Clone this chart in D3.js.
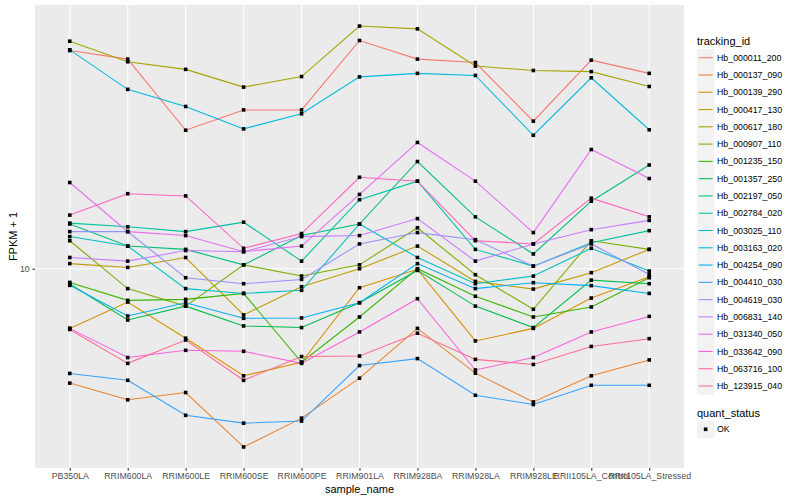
<!DOCTYPE html>
<html>
<head>
<meta charset="utf-8">
<script src="https://cdn.jsdelivr.net/npm/d3@7"></script>
<style>
  body { margin: 0; background: #fff; }
  text { font-family: "Liberation Sans", Arial, sans-serif; }
</style>
</head>
<body>
<svg width="800" height="500"></svg>
<script>
// samples on the x axis
const samples = ["PB350LA", "RRIM600LA", "RRIM600LE", "RRIM600SE", "RRIM600PE",
  "RRIM901LA", "RRIM928BA", "RRIM928LA", "RRIM928LE",
  "RRII105LA_Control", "RRII105LA_Stressed"];

const trackingIds = ["Hb_000011_200", "Hb_000137_090", "Hb_000139_290", "Hb_000417_130",
  "Hb_000617_180", "Hb_000907_110", "Hb_001235_150", "Hb_001357_250", "Hb_002197_050",
  "Hb_002784_020", "Hb_003025_110", "Hb_003163_020", "Hb_004254_090", "Hb_004410_030",
  "Hb_004619_030", "Hb_006831_140", "Hb_031340_050", "Hb_033642_090", "Hb_063716_100",
  "Hb_123915_040"];

// FPKM + 1, one row per tracking id, one value per sample
const fpkm = [
  [53.5, 50.1, 29.0, 33.9, 33.9, 57.8, 50.1, 48.8, 31.1, 49.7, 44.9],
  [4.15, 3.65, 3.86, 2.54, 3.17, 4.31, 6.32, 4.48, 3.59, 4.39, 4.96],
  [6.32, 7.74, 5.86, 4.39, 4.87, 8.64, 9.95, 5.74, 6.32, 7.98, 9.40],
  [10.4, 10.1, 10.9, 7.01, 8.71, 10.0, 11.9, 9.07, 8.55, 9.70, 11.6],
  [57.5, 49.1, 46.3, 40.4, 43.8, 64.6, 63.2, 47.5, 45.9, 45.5, 40.6],
  [12.4, 8.58, 7.50, 10.3, 9.45, 10.3, 13.7, 9.55, 7.32, 12.4, 11.6],
  [9.00, 7.84, 7.90, 8.27, 4.87, 6.90, 10.0, 8.09, 6.90, 7.45, 9.33],
  [8.89, 6.74, 7.50, 6.44, 6.36, 7.70, 9.87, 7.50, 6.36, 9.16, 8.91],
  [14.1, 11.9, 11.6, 10.3, 12.9, 14.1, 22.8, 14.9, 11.2, 16.8, 22.2],
  [14.2, 13.8, 13.3, 14.3, 10.6, 17.0, 19.6, 11.6, 10.2, 12.2, 13.4],
  [12.8, 11.9, 8.58, 8.27, 8.47, 14.1, 10.9, 8.91, 9.45, 11.7, 9.82],
  [53.8, 39.7, 34.8, 29.3, 32.9, 43.7, 44.9, 44.2, 27.9, 43.4, 29.1],
  [8.80, 6.95, 7.70, 6.83, 6.85, 7.70, 10.4, 8.58, 8.98, 8.78, 8.27],
  [4.47, 4.24, 3.24, 3.05, 3.10, 4.75, 5.01, 3.78, 3.52, 4.08, 4.08],
  [13.3, 13.3, 9.33, 8.91, 9.21, 12.1, 13.2, 12.5, 10.2, 12.1, 9.57],
  [10.9, 10.6, 11.5, 11.4, 12.8, 12.9, 14.7, 10.6, 12.1, 13.5, 14.5],
  [19.4, 13.3, 12.9, 11.4, 11.9, 17.7, 26.4, 19.6, 13.2, 25.0, 20.0],
  [6.32, 5.05, 5.34, 5.30, 4.83, 6.15, 7.94, 4.59, 5.05, 6.15, 6.93],
  [15.1, 17.8, 17.5, 11.7, 13.1, 20.2, 19.6, 12.4, 12.1, 17.2, 14.9],
  [6.27, 4.83, 5.78, 4.24, 5.09, 5.11, 6.09, 4.98, 4.79, 5.50, 5.84]
];

const yTicks = [10];

// ggplot hue palette, 20 levels
const palette = ["#F8766D", "#EA8331", "#D89000", "#C09B00", "#A3A500", "#7CAE00",
  "#39B600", "#00BB4E", "#00BF7D", "#00C1A3", "#00BFC4", "#00BAE0", "#00B0F6",
  "#35A2FF", "#9590FF", "#C77CFF", "#E76BF3", "#FA62DB", "#FF62BC", "#FF6C91"];

const panel = { left: 35, right: 684, top: 5, bottom: 468 };
const svg = d3.select("svg");

const series = trackingIds.map((id, i) => ({
  id,
  color: palette[i],
  values: samples.map((s, j) => ({ sample: s, v: fpkm[i][j] }))
}));

// log scale with 5% expansion like ggplot
const all = fpkm.flat();
const lo = Math.log10(d3.min(all)), hi = Math.log10(d3.max(all));
const pad = (hi - lo) * 0.05;
const y = d3.scaleLog()
  .domain([10 ** (lo - pad), 10 ** (hi + pad)])
  .range([panel.bottom, panel.top]);

const x = d3.scalePoint()
  .domain(samples)
  .range([panel.left, panel.right])
  .padding(0.6);

// panel background and grid
svg.append("rect")
  .attr("x", panel.left).attr("y", panel.top)
  .attr("width", panel.right - panel.left)
  .attr("height", panel.bottom - panel.top)
  .attr("fill", "#EBEBEB");

const grid = svg.append("g").attr("stroke", "#fff").attr("stroke-width", 1.07);
grid.selectAll(".gx").data(samples).join("line")
  .attr("x1", (d) => x(d)).attr("x2", (d) => x(d))
  .attr("y1", panel.top).attr("y2", panel.bottom);
grid.selectAll(".gy").data(yTicks).join("line")
  .attr("x1", panel.left).attr("x2", panel.right)
  .attr("y1", (d) => y(d)).attr("y2", (d) => y(d));

// lines
const line = d3.line().x((d) => x(d.sample)).y((d) => y(d.v));
svg.append("g").selectAll("path").data(series).join("path")
  .attr("fill", "none")
  .attr("stroke", (d) => d.color)
  .attr("stroke-width", 1.07)
  .attr("d", (d) => line(d.values));

// points
svg.append("g").selectAll("rect")
  .data(series.flatMap((d) => d.values))
  .join("rect")
  .attr("x", (d) => x(d.sample) - 1.8)
  .attr("y", (d) => y(d.v) - 1.8)
  .attr("width", 3.6).attr("height", 3.6)
  .attr("fill", "#000");

// axes
const xAxis = d3.axisBottom(x).tickSize(2.75).tickPadding(2.5);
const gx = svg.append("g").attr("transform", `translate(0,${panel.bottom})`).call(xAxis);
const yAxis = d3.axisLeft(y).tickValues(yTicks).tickSize(2.75).tickPadding(2.5)
  .tickFormat(d3.format("d"));
const gy = svg.append("g").attr("transform", `translate(${panel.left},0)`).call(yAxis);
[gx, gy].forEach((g) => {
  g.select(".domain").remove();
  g.selectAll(".tick line").attr("stroke", "#333").attr("stroke-width", 1.07);
  g.selectAll(".tick text").attr("fill", "#4D4D4D").style("font-size", "8.8px")
    .style("font-family", "Liberation Sans, Arial, sans-serif");
});

svg.append("text")
  .attr("x", (panel.left + panel.right) / 2).attr("y", 493)
  .attr("text-anchor", "middle").style("font-size", "11px")
  .text("sample_name");
svg.append("text")
  .attr("transform", `translate(17,${(panel.top + panel.bottom) / 2}) rotate(-90)`)
  .attr("text-anchor", "middle").style("font-size", "11px")
  .text("FPKM + 1");

// legend: tracking_id
const legend = svg.append("g").attr("transform", "translate(697,0)");
legend.append("text").attr("x", 0).attr("y", 44.5)
  .style("font-size", "11px").text("tracking_id");
const keys = legend.selectAll(".key").data(series).join("g")
  .attr("transform", (d, i) => `translate(0,${57.7 + i * 17.28})`);
keys.append("rect")
  .attr("x", 0).attr("y", -8.64).attr("width", 17.28).attr("height", 17.28)
  .attr("fill", "#F2F2F2");
keys.append("line")
  .attr("x1", 1.7).attr("x2", 15.6).attr("y1", 0).attr("y2", 0)
  .attr("stroke", (d) => d.color).attr("stroke-width", 1.07);
keys.append("text")
  .attr("x", 20).attr("y", 3.1)
  .style("font-size", "8.8px")
  .text((d) => d.id);

// legend: quant_status
legend.append("text").attr("x", 0).attr("y", 416.5)
  .style("font-size", "11px").text("quant_status");
const ok = legend.append("g").attr("transform", "translate(0,429.3)");
ok.append("rect")
  .attr("x", 0).attr("y", -8.64).attr("width", 17.28).attr("height", 17.28)
  .attr("fill", "#F2F2F2");
ok.append("rect")
  .attr("x", 8.64 - 1.8).attr("y", -1.8).attr("width", 3.6).attr("height", 3.6)
  .attr("fill", "#000");
ok.append("text").attr("x", 20).attr("y", 3.1)
  .style("font-size", "8.8px").text("OK");
</script>
</body>
</html>
